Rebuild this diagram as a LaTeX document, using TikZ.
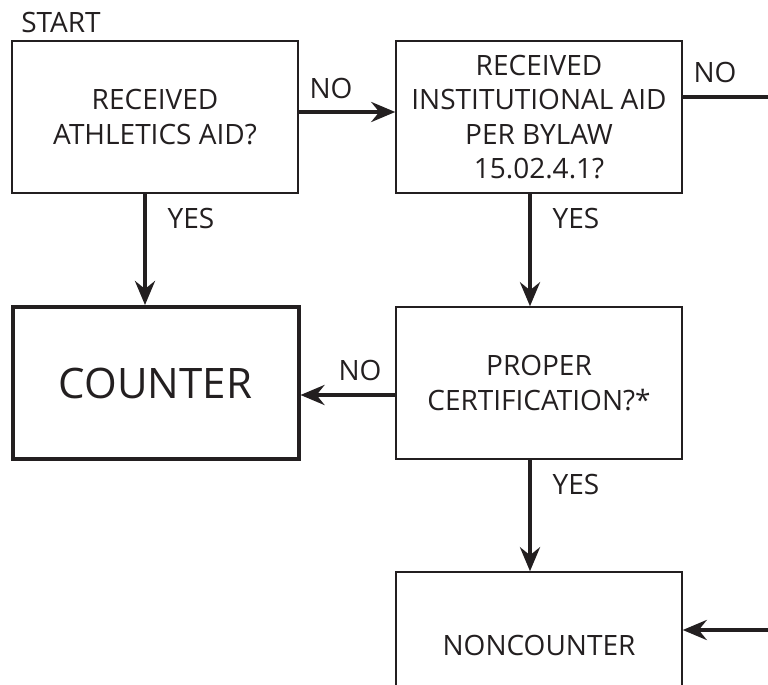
\documentclass[tikz,border=0pt]{standalone}
\usepackage{fontspec}
\setmainfont{Open Sans}
\usepackage{xcolor}
\usetikzlibrary{arrows.meta}
\definecolor{ink}{HTML}{231F20}
\tikzset{
  askbox/.style={draw=ink, line width=0.75pt, minimum width=143pt, minimum height=76pt,
    inner sep=0pt, align=center, text=ink, font=\fontsize{14}{17.25}\selectfont},
  endbox/.style={askbox, line width=2pt, font=\fontsize{21}{25}\selectfont},
  flow/.style={draw=ink, line width=2pt, -{Stealth[length=12pt, width=10pt, inset=4pt]}},
  word/.style={text=ink, inner sep=0pt, font=\fontsize{14}{17}\selectfont}
}
\begin{document}
\begin{tikzpicture}[x=0.5pt, y=-0.5pt]
\useasboundingbox (0,0) rectangle (768,685);
\clip (0,0) rectangle (768,685);
\fill [white] (0,0) rectangle (768,685);
% boxes
\node [askbox] (athl) at (155,117) {RECEIVED\\ATHLETICS AID?};
\node [askbox] (inst) at (539,117) {RECEIVED\\INSTITUTIONAL AID\\PER BYLAW\\15.02.4.1?};
\node [endbox] (counter) at (155.5,383) {\raisebox{-2pt}{COUNTER}};
\node [askbox] (cert) at (539,383) {PROPER\\CERTIFICATION?*};
\node [askbox] (noncounter) at (539,648) {\raisebox{3pt}{NONCOUNTER}};
\coordinate (outR) at (768,97);
\coordinate (inR) at (768,630);
% labels
\node [word] (start) at (61,22) {START};
\node [word] (noA) at (331,88) {NO};
\node [word] (noB) at (715,72) {NO};
\node [word] (yesA) at (191,218) {YES};
\node [word] (yesB) at (576,218) {YES};
\node [word] (noD) at (360,370) {NO};
\node [word] (yesD) at (576,484) {YES};
% connectors
\draw [flow] ([yshift=2.5pt]athl.east) -- ([yshift=2.5pt]inst.west);
\draw [draw=ink, line width=2pt] ([yshift=10pt]inst.east) -- (outR);
\draw [flow] ([xshift=-5pt]athl.south) -- ([xshift=-5pt]athl.south |- counter.north);
\draw [flow] ([xshift=-4.5pt]inst.south) -- ([xshift=-4.5pt]cert.north);
\draw [flow] ([yshift=-6pt]cert.west) -- ([yshift=-6pt]counter.east);
\draw [flow] ([xshift=-4.5pt]cert.south) -- ([xshift=-4.5pt]noncounter.north);
\draw [flow] (inR) -- (inR -| noncounter.east);
\end{tikzpicture}
\end{document}
